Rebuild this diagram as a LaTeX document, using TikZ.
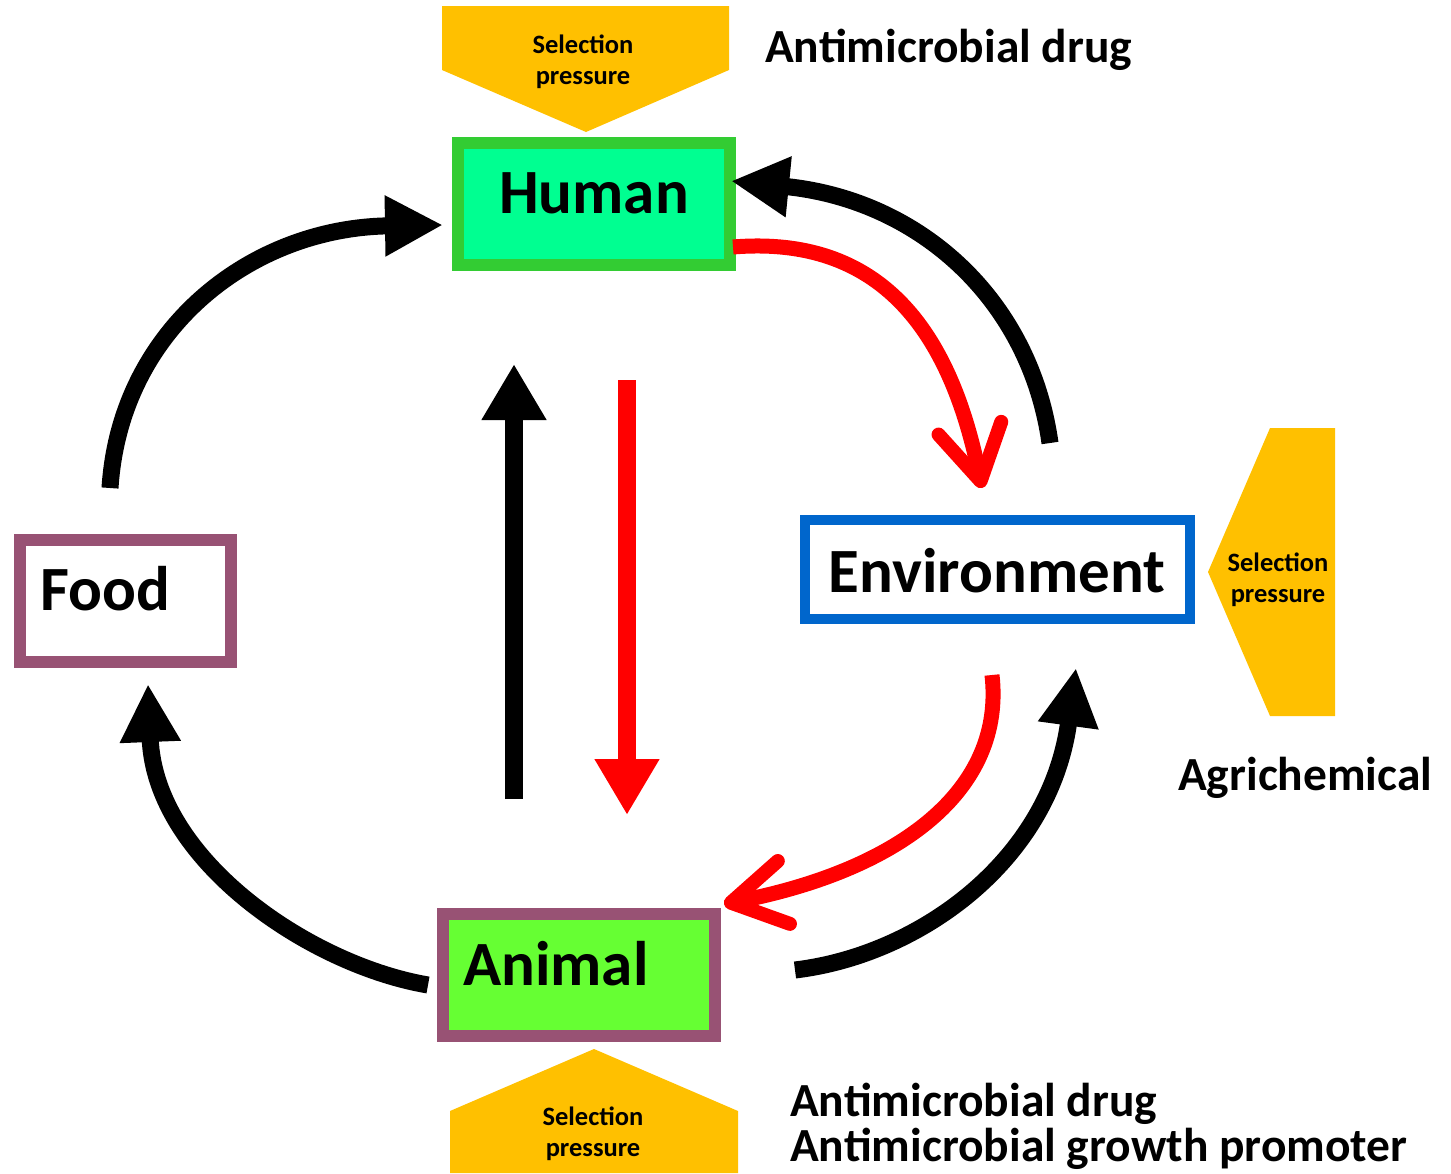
\documentclass[tikz,border=0pt]{standalone}
\usepackage{fontspec}
\setmainfont{Carlito}
\usetikzlibrary{arrows.meta}
\definecolor{gold}{HTML}{FFC000}
\definecolor{humanfill}{HTML}{00FF91}
\definecolor{humanline}{HTML}{33CC33}
\definecolor{envline}{HTML}{0066CC}
\definecolor{mauve}{HTML}{985274}
\definecolor{animalfill}{HTML}{66FF33}
\definecolor{flowred}{HTML}{FF0000}

\begin{document}
\begin{tikzpicture}[x=1pt,y=-1pt,
  hostbox/.style={draw, rectangle, inner sep=0pt},
  hostname/.style={font=\fontsize{63}{63}\selectfont\bfseries, inner sep=0pt},
  sidenote/.style={font=\fontsize{47.5}{50}\selectfont\bfseries, inner sep=0pt, anchor=base west},
  presstext/.style={font=\fontsize{26.5}{31}\selectfont\bfseries, inner sep=0pt, align=center},
  pressure/.style={fill=gold},
  blackflow/.style={line width=17pt, -{Triangle[length=58pt,width=57pt]}},
  straightflow/.style={line width=18pt, -{Triangle[length=56pt,width=61pt]}},
  redflow/.style={draw=flowred, line width=15pt,
    -{Straight Barb[length=54pt,width=64pt,line width=14pt,round]}},
]
\useasboundingbox (0,0) rectangle (1451,1173);

% selection pressure markers
\fill[pressure] (442,6) -- (729,6) -- (729,70) -- (586,132) -- (442,70) -- cycle;
\fill[pressure] (1270,428) -- (1335,428) -- (1335,716) -- (1270,716) -- (1208,572) -- cycle;
\fill[pressure] (594,1049) -- (738,1111) -- (738,1173) -- (450,1173) -- (450,1111) -- cycle;
\node[presstext] (sptop) at (583,62) {Selection\\pressure};
\node[presstext] (spright) at (1278,580) {Selection\\pressure};
\node[presstext] (spbottom) at (593,1134) {Selection\\pressure};

% hosts
\node[hostbox, draw=humanline, fill=humanfill, line width=12pt,
      minimum width=272pt, minimum height=122pt] (human) at (594,204) {};
\node[hostname, anchor=base] (humantext) at (594,213) {Human};

\node[hostbox, draw=envline, fill=white, line width=10pt,
      minimum width=385pt, minimum height=99pt] (env) at (997.5,569.5) {};
\node[hostname, anchor=base] (envtext) at (997,592) {Environment};

\node[hostbox, draw=mauve, fill=white, line width=12pt,
      minimum width=211pt, minimum height=122pt] (food) at (125.5,601) {};
\node[hostname, anchor=base west] (foodtext) at (40,610) {Food};

\node[hostbox, draw=mauve, fill=animalfill, line width=12pt,
      minimum width=272pt, minimum height=122pt] (animal) at (579,975) {};
\node[hostname, anchor=base west] (animaltext) at (463,985) {Animal};

% notes
\node[sidenote] (drugtop) at (765,62) {Antimicrobial drug};
\node[sidenote] (agri) at (1178,790) {Agrichemical};
\node[sidenote] (drugbottom) at (790,1116) {Antimicrobial drug};
\node[sidenote] (promoter) at (790,1161) {Antimicrobial growth promoter};

% connector end points
\coordinate (fh-s) at (110,488);  \coordinate (fh-e) at (443,225);
\coordinate (af-s) at (428,985);  \coordinate (af-e) at (148,684);
\coordinate (eh-s) at (1050,443); \coordinate (eh-e) at (731,181);
\coordinate (he-s) at (733,247);  \coordinate (he-e) at (982,488);
\coordinate (ea-s) at (992,675);  \coordinate (ea-e) at (724,904);
\coordinate (ae-s) at (795,970);  \coordinate (ae-e) at (1076,668);
\coordinate (ah-s) at (514,799);  \coordinate (ah-e) at (514,364);
\coordinate (ha-s) at (627,380);  \coordinate (ha-e) at (627,815);

% transmission routes
\draw[blackflow] (fh-s) .. controls (120,330) and (250,228) .. (fh-e);
\draw[blackflow] (af-s) .. controls (310,965) and (155,860) .. (af-e);
\draw[blackflow] (eh-s) .. controls (1030,300) and (920,200) .. (eh-e);
\draw[blackflow] (ae-s) .. controls (920,955) and (1050,860) .. (ae-e);
\draw[redflow] (he-s) .. controls (880,235) and (950,330) .. (he-e);
\draw[redflow] (ea-s) .. controls (1005,790) and (900,870) .. (ea-e);
\draw[straightflow] (ah-s) -- (ah-e);
\draw[straightflow, draw=flowred, fill=flowred] (ha-s) -- (ha-e);
\end{tikzpicture}
\end{document}
